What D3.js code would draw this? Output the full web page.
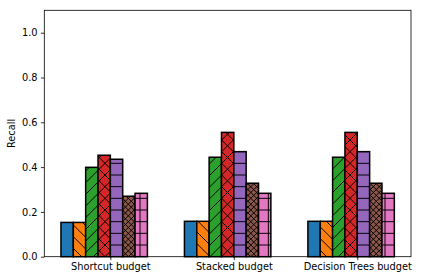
<!DOCTYPE html>
<html>
<head>
<meta charset="utf-8">
<script src="https://cdn.jsdelivr.net/npm/d3@7"></script>
<style>
  html, body { margin: 0; padding: 0; background: #fff; }
  svg { display: block; }
  text { font-family: "DejaVu Sans", sans-serif; fill: #000; }
</style>
</head>
<body>
<svg id="chart" width="421" height="280"></svg>
<script>
// categories on the x axis
const categories = ['Shortcut budget', 'Stacked budget', 'Decision Trees budget'];

// one array per bar series (7 bars per group)
const blueVals   = [0.153, 0.158, 0.158];
const orangeVals = [0.153, 0.158, 0.158];
const greenVals  = [0.399, 0.444, 0.444];
const redVals    = [0.453, 0.555, 0.555];
const purpleVals = [0.435, 0.469, 0.469];
const brownVals  = [0.270, 0.328, 0.328];
const pinkVals   = [0.283, 0.283, 0.283];

const yTicks = [0.0, 0.2, 0.4, 0.6, 0.8, 1.0];

const series = [blueVals, orangeVals, greenVals, redVals, purpleVals, brownVals, pinkVals];
const colors = ['#1f77b4', '#ff7f0e', '#2ca02c', '#d62728', '#9467bd', '#8c564b', '#e377c2'];
const hatches = ['', '\\', '/', 'x', '-', 'xx', '+'];

const svg = d3.select('#chart');
const plotL = 44.3, plotR = 411, plotT = 10.3, plotB = 256.7;
const barW = 0.1;
const fontPx = 9.8;

const x = d3.scaleLinear().domain([-0.535, 2.435]).range([plotL, plotR]);
const y = d3.scaleLinear().domain([0, 1.1]).range([plotB, plotT]);

// hatch patterns, tiled on a 70px unit from the figure origin (like matplotlib at 70 dpi)
const defs = svg.append('defs');
const T = 70;
function addPattern(id, hatch) {
    const p = defs.append('pattern')
        .attr('id', id)
        .attr('patternUnits', 'userSpaceOnUse')
        .attr('width', T).attr('height', T);
    const g = p.append('g').attr('stroke', '#000').attr('stroke-width', 0.97).attr('fill', 'none');
    const n = (ch) => hatch.split('').filter(c => c === ch).length * 6;
    const fwd = n('/') + n('x');
    const back = n('\\') + n('x');
    const hor = n('-') + n('+');
    const ver = n('+');
    if (fwd) {
        const s = T / fwd;
        for (let k = -fwd; k <= fwd; k++) {
            const x0 = k * s;
            g.append('line').attr('x1', x0).attr('y1', T).attr('x2', x0 + T).attr('y2', 0);
        }
    }
    if (back) {
        const s = T / back;
        for (let k = -back; k <= back; k++) {
            const x0 = k * s;
            g.append('line').attr('x1', x0).attr('y1', 0).attr('x2', x0 + T).attr('y2', T);
        }
    }
    if (hor) {
        const s = T / hor;
        for (let k = 0; k <= hor; k++) {
            g.append('line').attr('x1', 0).attr('y1', k * s).attr('x2', T).attr('y2', k * s);
        }
    }
    if (ver) {
        const s = T / ver;
        for (let k = 0; k <= ver; k++) {
            g.append('line').attr('x1', k * s).attr('y1', 0).attr('x2', k * s).attr('y2', T);
        }
    }
}
hatches.forEach((h, i) => { if (h) addPattern('hatch' + i, h); });

// bars
series.forEach((vals, i) => {
    const gs = svg.append('g');
    const rects = vals.map((v, c) => ({ c, v }));
    const bx = d => x(d.c - 0.4 + i * barW);
    const bw = d => x(d.c - 0.3 + i * barW) - x(d.c - 0.4 + i * barW);
    gs.selectAll('rect.fill')
        .data(rects)
        .join('rect')
        .attr('class', 'fill')
        .attr('x', bx).attr('width', bw)
        .attr('y', d => y(d.v))
        .attr('height', d => y(0) - y(d.v))
        .attr('fill', colors[i]);
    if (hatches[i]) {
        gs.selectAll('rect.hatch')
            .data(rects)
            .join('rect')
            .attr('class', 'hatch')
            .attr('x', bx).attr('width', bw)
            .attr('y', d => y(d.v))
            .attr('height', d => y(0) - y(d.v))
            .attr('fill', `url(#hatch${i})`);
    }
    gs.selectAll('rect.edge')
        .data(rects)
        .join('rect')
        .attr('class', 'edge')
        .attr('x', bx).attr('width', bw)
        .attr('y', d => y(d.v))
        .attr('height', d => y(0) - y(d.v))
        .attr('fill', 'none')
        .attr('stroke', '#000')
        .attr('stroke-width', 1.5);
});

// axes
const yAxis = d3.axisLeft(y).tickValues(yTicks).tickFormat(d3.format('.1f')).tickSize(3.4).tickPadding(3.4);
const xAxis = d3.axisBottom(x).tickValues(categories.map((c, i) => i)).tickFormat(i => categories[i]).tickSize(3.4).tickPadding(3.4);

const gy = svg.append('g').attr('transform', `translate(${plotL},0)`).call(yAxis);
const gx = svg.append('g').attr('transform', `translate(0,${plotB})`).call(xAxis);
[gx, gy].forEach(g => {
    g.select('.domain').remove();
    g.selectAll('.tick line').attr('stroke', '#000').attr('stroke-width', 0.8);
    g.selectAll('.tick text').attr('font-size', fontPx).attr('font-family', '"DejaVu Sans", sans-serif').attr('fill', '#000');
});

// frame
svg.append('rect')
    .attr('x', plotL).attr('y', plotT)
    .attr('width', plotR - plotL).attr('height', plotB - plotT)
    .attr('fill', 'none').attr('stroke', '#000').attr('stroke-width', 0.8);

// y label
svg.append('text')
    .attr('transform', `translate(15,${(plotT + plotB) / 2}) rotate(-90)`)
    .attr('text-anchor', 'middle')
    .attr('font-size', fontPx)
    .text('Recall');
</script>
</body>
</html>
